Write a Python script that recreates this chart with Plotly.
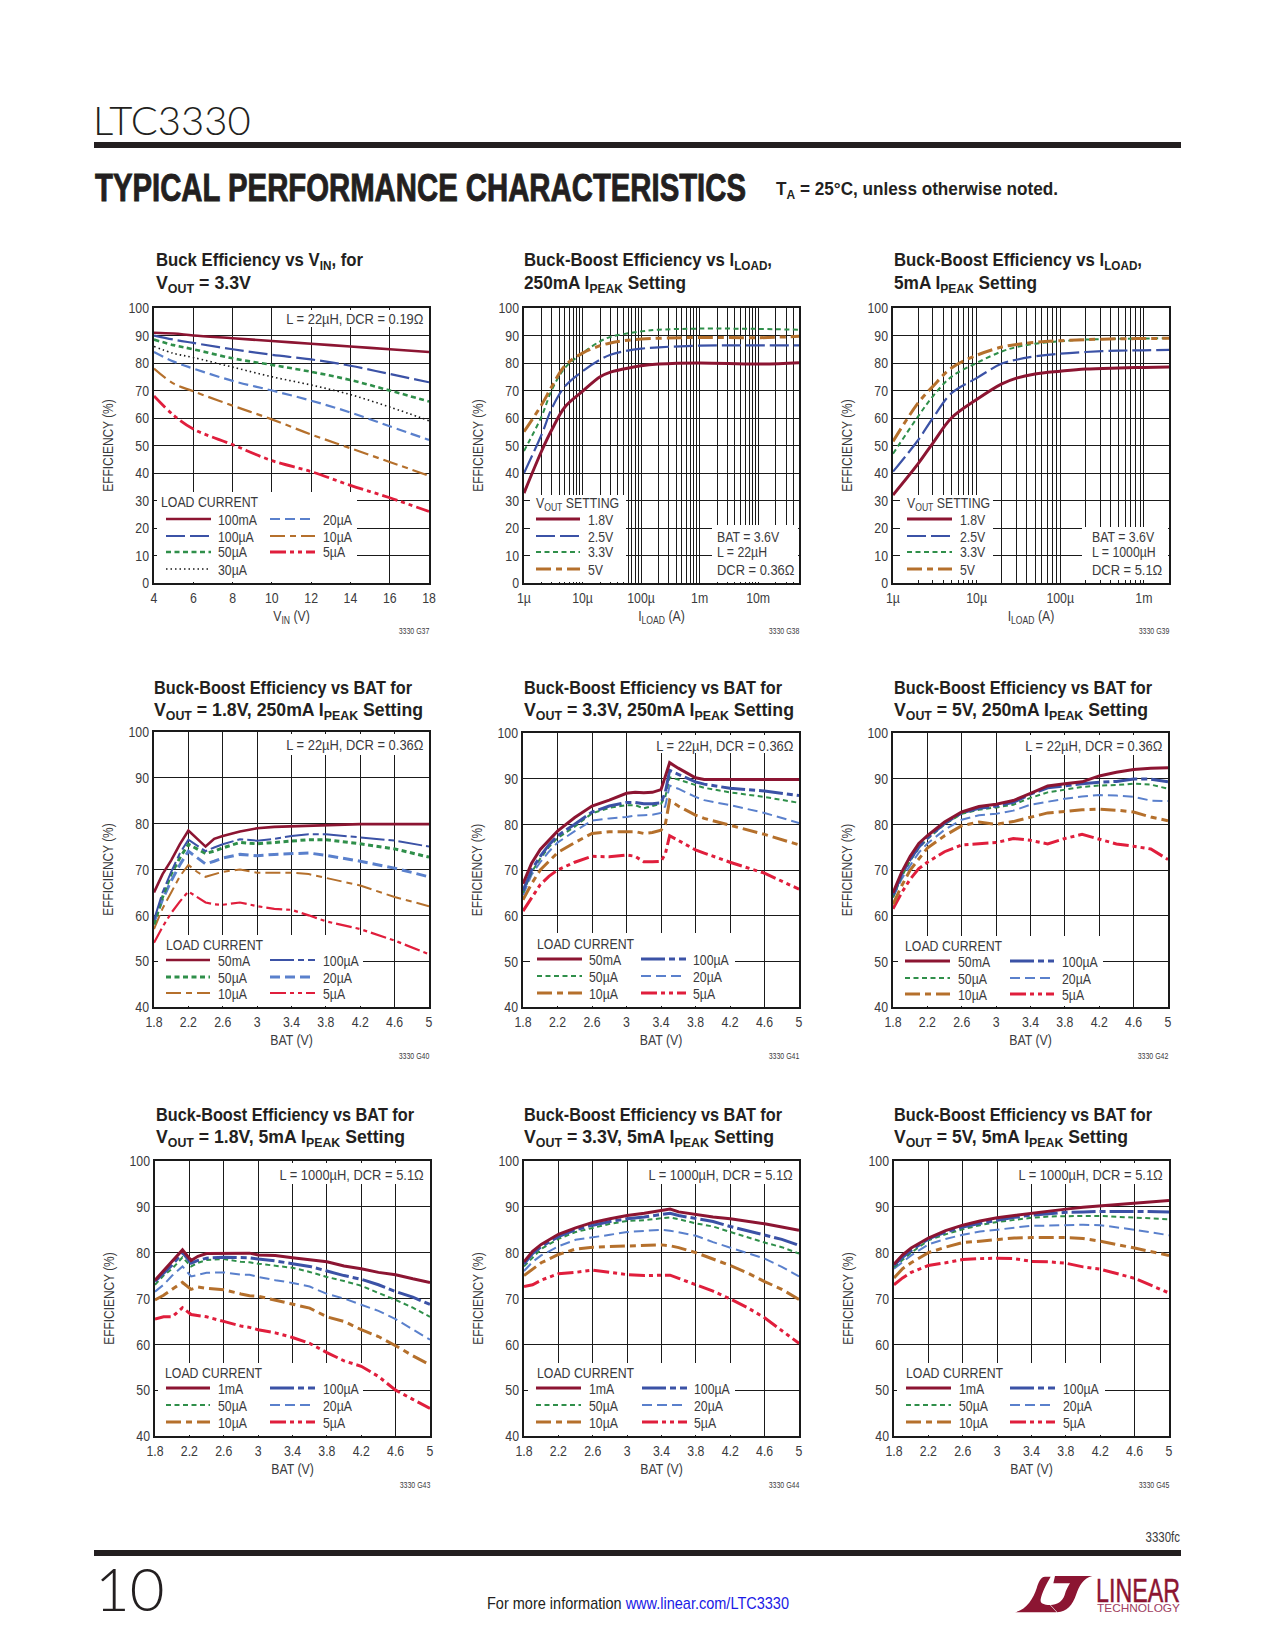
import json
import re
import plotly.graph_objects as go

W, H = 1275, 1650
FONT = "Liberation Sans"
INK = "#231f20"
GREY = "#3a3a3c"

# ---------- data ----------
c1_x = [4, 5, 6, 8, 10, 12, 14, 16, 18]
c1_100mA = [91, 90.7, 90, 89, 88, 87, 86, 85, 84]
c1_100uA = [90, 88.5, 87.3, 85, 83, 81.3, 79, 76, 73]
c1_50uA = [88.5, 86.5, 85, 81.7, 79.3, 76.8, 73.8, 70, 66]
c1_30uA = [86, 83.5, 82, 78.5, 75, 72, 68.5, 64, 59]
c1_20uA = [84, 80.5, 78, 73.5, 70, 66.3, 62, 57, 52]
c1_10uA = [78, 72.5, 69.7, 64.5, 59.5, 54, 49, 44, 39]
c1_5uA = [68, 61, 56, 50.3, 44.5, 40.5, 35.5, 31, 26]

c2_x = [1e-6, 2e-6, 3e-6, 5e-6, 1e-5, 2e-5, 3e-5, 5e-5, 1e-4, 2e-4, 1e-3, 1e-2, 5e-2]
c2_18 = [32.7, 48, 55.8, 64, 69.7, 75, 76.7, 77.8, 79, 79.6, 80, 79.6, 80.1]
c2_25 = [40, 54, 63.6, 71.5, 77, 81.2, 83, 84.2, 85.2, 85.7, 86.3, 86.4, 86.4]
c2_33 = [48, 60.6, 70.3, 78.2, 83.6, 87.9, 89.5, 90.5, 91.5, 92.1, 92.5, 92.4, 92.1]
c2_50 = [55, 64.8, 71.5, 79, 83.6, 86.3, 87.3, 88.1, 88.7, 89, 89.3, 89.2, 89.7]

c3_x = [1e-6, 2e-6, 3e-6, 5e-6, 1e-5, 2e-5, 3e-5, 5e-5, 1e-4, 2e-4, 5e-4, 1e-3, 2e-3]
c3_18 = [32, 43.4, 50.9, 60, 66.7, 72.4, 74.5, 76, 77, 77.8, 78.2, 78.4, 78.5]
c3_25 = [40.5, 52, 60, 69, 74.5, 79.8, 81.2, 82.4, 83.4, 84, 84.5, 84.6, 84.8]
c3_33 = [47, 60.6, 67.9, 75, 80, 84.2, 85.8, 87, 87.9, 88.5, 88.8, 88.9, 89]
c3_50 = [51.5, 65.5, 71.5, 78.2, 82.8, 85.8, 86.7, 87.5, 88.1, 88.5, 88.8, 88.9, 89]

c4_x = [1.8, 1.9, 2, 2.1, 2.2, 2.3, 2.4, 2.5, 2.6, 2.8, 3, 3.2, 3.4, 3.6, 3.8, 4.2, 4.6, 5]
c4_50mA = [65, 69, 72, 75.5, 78.5, 76.7, 75, 76.7, 77.3, 78.3, 79, 79.3, 79.4, 79.5, 79.7, 79.9, 79.9, 79.9]
c4_100uA = [59, 65, 69.5, 73.5, 76.5, 75.3, 74, 74.8, 75.5, 76.6, 76.3, 76.7, 77.3, 77.7, 77.7, 77, 76.3, 75]
c4_50uA = [58, 64, 69, 72.5, 75.5, 74.5, 73.5, 74, 74.7, 75.9, 75.6, 75.9, 76.2, 76.5, 76.5, 75.6, 74.5, 72.7]
c4_20uA = [58.5, 63.5, 67.5, 71, 74, 72.5, 71.2, 71.8, 72.5, 73.3, 73, 73.3, 73.5, 73.6, 73.1, 71.8, 70.3, 68.4]
c4_10uA = [57, 61.5, 65, 68.5, 71, 69.5, 68.4, 69, 69.5, 70, 69.3, 69.3, 69.3, 69, 68.2, 66.5, 64, 62]
c4_5uA = [54, 57.5, 60.5, 63, 65.2, 64, 62.8, 62.4, 62.3, 62.8, 62, 61.4, 61.2, 60, 58.7, 57, 54.5, 51.5]

c5_x = [1.8, 1.9, 2, 2.1, 2.2, 2.4, 2.6, 2.8, 3, 3.1, 3.2, 3.3, 3.4, 3.45, 3.5, 3.6, 3.8, 3.9, 4.2, 4.6, 5]
c5_50mA = [67, 71.5, 74.5, 76.5, 78.5, 81.5, 84, 85.3, 86.8, 87, 86.9, 87, 87.6, 90.5, 93.5, 92.3, 90.2, 89.8, 89.8, 89.8, 89.8]
c5_100uA = [65.5, 70, 73, 75.5, 77.5, 80, 82.7, 84, 84.8, 84.8, 84.5, 84.5, 84.7, 87, 91.8, 91, 89.3, 88.8, 87.9, 87.3, 86.3]
c5_50uA = [65, 69.5, 72.5, 75, 77, 79.5, 82.4, 83.6, 84.2, 84.2, 83.5, 84, 84.5, 86, 90.3, 89.8, 88.7, 88, 87, 86, 84.7]
c5_20uA = [64.5, 69, 71.7, 74, 76, 78.5, 80.8, 81.3, 81.6, 81.9, 82, 82.1, 82.5, 84, 88.5, 87.8, 86, 85.3, 84.2, 82.5, 80.3]
c5_10uA = [63.5, 67, 70, 72, 73.8, 76, 78, 78.4, 78.4, 78.4, 78, 78.2, 78.7, 80, 85.3, 84, 82, 81.3, 79.8, 77.8, 75.5]
c5_5uA = [61, 64, 66.8, 68.6, 70, 71.7, 73, 72.9, 73.3, 73, 71.8, 71.8, 71.9, 73.5, 77.5, 76.5, 74.4, 73.7, 71.7, 69.3, 65.8]

c6_x = [1.8, 1.9, 2, 2.1, 2.2, 2.4, 2.6, 2.8, 3, 3.2, 3.4, 3.6, 3.8, 4, 4.2, 4.4, 4.6, 4.8, 5]
c6_50mA = [65, 69.5, 73, 75.8, 77.5, 80.5, 82.7, 83.9, 84.4, 85.2, 86.8, 88.4, 88.9, 89.3, 90.6, 91.4, 92, 92.3, 92.4]
c6_100uA = [64.5, 69, 72.3, 75, 77, 80.2, 82.5, 83.5, 84, 84.8, 86.6, 88, 88.4, 88.9, 89.2, 89.4, 89.9, 89.9, 89.3]
c6_50uA = [64, 68.5, 72, 74.8, 76.8, 80, 82.3, 83.2, 83.7, 84.3, 85.8, 87, 87.6, 88.2, 88.5, 88.6, 88.9, 88.7, 87.8]
c6_20uA = [64, 68, 71, 73.8, 75.8, 78.8, 81, 82, 82.3, 83, 84.3, 85, 85.6, 86.1, 86.4, 86.3, 86, 85.2, 85.1]
c6_10uA = [62.5, 66.5, 70, 72.5, 74.8, 77.5, 79.7, 80.5, 80, 80.6, 81.6, 82.5, 82.8, 83.2, 83.3, 83.1, 82.7, 81.6, 80.8]
c6_5uA = [61.5, 65, 68, 70.3, 71.7, 74, 75.5, 75.8, 76, 76.9, 76.5, 75.7, 76.9, 77.8, 76.8, 75.7, 75.2, 74.6, 72.3]

c7_x = [1.8, 1.9, 2, 2.12, 2.22, 2.3, 2.4, 2.6, 2.8, 2.9, 3, 3.2, 3.4, 3.6, 3.8, 4, 4.2, 4.4, 4.6, 4.8, 5]
c7_1mA = [74, 76, 78, 80.6, 78.3, 79.2, 79.8, 79.9, 79.9, 79.9, 79.5, 79.4, 78.9, 78.5, 78, 77.1, 76.5, 75.7, 75.2, 74.3, 73.5]
c7_100uA = [73.7, 75.5, 77.3, 80, 77.7, 78.3, 78.8, 79, 79, 78.9, 78.6, 78.2, 77.6, 77, 76, 75, 74.2, 73, 71.5, 70.3, 68.7]
c7_50uA = [73, 75, 76.5, 79, 77, 77.8, 78.4, 78.6, 78, 77.9, 77.6, 77.1, 76.7, 75.8, 74.7, 73.8, 72.8, 71.2, 69.7, 68, 66]
c7_20uA = [71.5, 73, 75, 77, 74.8, 75.1, 75.6, 75.7, 75.2, 75.2, 74.7, 74, 73.4, 72.6, 71, 70, 68.7, 67.3, 65.5, 63.2, 61]
c7_10uA = [69.7, 70.7, 72, 73.5, 72, 72.5, 72.2, 71.9, 71, 70.6, 70.5, 69.6, 68.8, 67.9, 66, 65, 63.2, 61.7, 59.7, 57.5, 55.5]
c7_5uA = [65.5, 66, 66, 68, 66.5, 66.3, 66, 65, 64, 63.7, 63.2, 62.5, 61.5, 60.2, 58.2, 56.4, 55.2, 53, 50, 48, 46]

c8_x = [1.8, 1.9, 2, 2.2, 2.4, 2.6, 2.8, 3, 3.2, 3.4, 3.5, 3.6, 3.8, 4, 4.2, 4.4, 4.6, 4.8, 5]
c8_1mA = [78, 80.3, 81.8, 84, 85.4, 86.6, 87.4, 88.1, 88.6, 89.3, 89.5, 88.9, 88.3, 87.8, 87.4, 86.9, 86.3, 85.6, 84.9]
c8_100uA = [77.5, 79.8, 81.3, 83.5, 85, 86, 86.8, 87.4, 87.8, 88.4, 88.6, 88.1, 87.4, 86.8, 85.7, 84.8, 83.8, 82.9, 81.6]
c8_50uA = [77, 79, 80.8, 83, 84.5, 85.4, 86.3, 86.9, 87.1, 87.5, 87.7, 87.3, 86.4, 85.7, 84.5, 83.3, 82.2, 81.2, 79.8]
c8_20uA = [76, 78, 79.4, 81.4, 82.8, 83.3, 83.9, 84.5, 84.8, 85, 84.8, 84.4, 83.7, 82.3, 81.1, 80, 78.7, 76.9, 74.8]
c8_10uA = [75, 76.5, 77.8, 79.6, 80.8, 81.2, 81.3, 81.5, 81.6, 81.7, 81.5, 81.1, 80, 78.6, 77.2, 75.6, 73.7, 72, 69.8]
c8_5uA = [72.6, 73, 74, 75.4, 75.7, 76.2, 75.7, 75.2, 75, 75.1, 75.1, 74.4, 73, 71.6, 69.9, 68, 65.8, 63, 60.2]

c9_x = [1.8, 1.9, 2, 2.2, 2.4, 2.6, 2.8, 3, 3.2, 3.4, 3.6, 3.8, 4, 4.2, 4.6, 5]
c9_1mA = [77.5, 79.5, 81, 83.2, 84.8, 86, 86.9, 87.6, 88.1, 88.6, 89, 89.5, 89.9, 90.2, 90.8, 91.4]
c9_100uA = [77.2, 79, 80.5, 83, 84.5, 85.6, 86.4, 87.1, 87.7, 88.2, 88.5, 88.8, 88.9, 89, 89, 88.9]
c9_50uA = [76.8, 78.5, 80, 82.7, 84, 85.1, 86, 86.7, 87.2, 87.6, 87.9, 88, 88, 88, 87.7, 87.3]
c9_20uA = [76.5, 78, 79.4, 81.8, 83, 83.9, 84.6, 85, 85.5, 85.9, 85.9, 86, 86.1, 86, 85, 83.8]
c9_10uA = [74.5, 76.5, 77.8, 80, 81.2, 82.2, 82.5, 82.8, 83.2, 83.3, 83.3, 83.3, 83.1, 82.5, 81, 79.4]
c9_5uA = [73, 74.5, 75.7, 77.2, 77.8, 78.5, 78.7, 78.8, 78.7, 78.1, 78, 77.7, 76.9, 76.4, 74.4, 71.2]

bat_ticks = [1.8, 2.2, 2.6, 3, 3.4, 3.8, 4.2, 4.6, 5]
vin_ticks = [4, 6, 8, 10, 12, 14, 16, 18]
eff_full = list(range(0, 101, 10))
eff_top = list(range(40, 101, 10))
log_major2 = [1e-6, 1e-5, 1e-4, 1e-3, 1e-2]
log_labels2 = ["1µ", "10µ", "100µ", "1m", "10m"]
log_major3 = [1e-6, 1e-5, 1e-4, 1e-3]
log_labels3 = ["1µ", "10µ", "100µ", "1m"]

# ---------- styles ----------
MAROON, BLUE, GREEN, BLACK, LBLUE, BROWN, RED = "#8c1532", "#3b52a6", "#2f8f4a", "#1a1a1a", "#5a80cc", "#b5702c", "#e01e3c"
D_SOLID = "solid"
D_LONG = "19px,5px"
D_LONGDOT = "24px,4px,6px,4px"
D_DOT = "5px,3.5px"
D_FINE = "1.5px,3px"
D_DASH = "10px,5px"
D_DD = "15px,5px,6px,5px"
D_DDD = "16px,4px,4px,4px,4px,4px"
S = {"A": (MAROON, D_SOLID), "B": (BLUE, D_LONG), "H": (BLUE, D_LONGDOT), "G": (GREEN, D_DOT), "K": (BLACK, D_FINE),
     "L": (LBLUE, D_DASH), "R": (BROWN, D_DD), "E": (RED, D_DDD)}


def log_minor(top):
    out = []
    for dec in (1e-6, 1e-5, 1e-4, 1e-3, 1e-2):
        for m in range(2, 10):
            v = m * dec
            if v <= top * 1.001:
                out.append(v)
    return out


panels = [
    dict(box=(154, 429, 308, 583), title=["Buck Efficiency vs V<sub>IN</sub>, for", "V<sub>OUT</sub> = 3.3V"], widths=(207, 95), tx=155, ty=(261, 284),
         x=c1_x, series=[("100mA", "A", c1_100mA, 2.6), ("100µA", "B", c1_100uA, 2.2), ("50µA", "G", c1_50uA, 2.6), ("30µA", "K", c1_30uA, 1.6),
                         ("20µA", "L", c1_20uA, 2.2), ("10µA", "R", c1_10uA, 2.2), ("5µA", "E", c1_5uA, 2.8)],
         xt=vin_ticks, xl=[str(v) for v in vin_ticks], yt=eff_full, yr=[0, 100], xr=[4, 18], xtitle="V<sub>IN</sub> (V)", log=False, spline=True,
         ltitle="LOAD CURRENT", lcols=[[0, 1, 2, 3], [4, 5, 6]], lk=(12, 57, 63, 116, 161, 168), ltx=6, lty=502, lrows=[519, 536, 552, 569],
         masks=[(157, 357, 492, 582), (283, 427, 310, 327)], note=["L = 22µH, DCR = 0.19Ω"], notex=424, notey=[318], noteanchor="right", code="3330 G37"),
    dict(box=(524, 799, 308, 583), title=["Buck-Boost Efficiency vs I<sub>LOAD</sub>,", "250mA I<sub>PEAK</sub> Setting"], widths=(248, 162), tx=523, ty=(261, 284),
         x=c2_x, series=[("1.8V", "A", c2_18, 3), ("2.5V", "B", c2_25, 2.2), ("3.3V", "G", c2_33, 2), ("5V", "R", c2_50, 3)],
         xt=log_major2, xl=log_labels2, minor=log_minor(0.05), yt=eff_full, yr=[0, 100], xr=[-6, -1.301], xtitle="I<sub>LOAD</sub> (A)", log=True, spline=True,
         ltitle="V<sub>OUT</sub> SETTING", lcols=[[0, 1, 2, 3]], lk=(12, 56, 63), ltx=11, lty=503, lrows=[519, 536, 552, 569],
         masks=[(530, 626, 495, 582), (712, 798, 525, 582)], note=["BAT = 3.6V", "L = 22µH", "DCR = 0.36Ω"], notex=716, notey=[536, 552, 569], noteanchor="left", code="3330 G38"),
    dict(box=(893, 1169, 308, 583), title=["Buck-Boost Efficiency vs I<sub>LOAD</sub>,", "5mA I<sub>PEAK</sub> Setting"], widths=(248, 143), tx=893, ty=(261, 284),
         x=c3_x, series=[("1.8V", "A", c3_18, 3), ("2.5V", "B", c3_25, 2.2), ("3.3V", "G", c3_33, 2), ("5V", "R", c3_50, 3)],
         xt=log_major3, xl=log_labels3, minor=log_minor(0.002), yt=eff_full, yr=[0, 100], xr=[-6, -2.699], xtitle="I<sub>LOAD</sub> (A)", log=True, spline=True,
         ltitle="V<sub>OUT</sub> SETTING", lcols=[[0, 1, 2, 3]], lk=(14, 59, 66), ltx=13, lty=503, lrows=[519, 536, 552, 569],
         masks=[(900, 993, 495, 580), (1082, 1168, 527, 580)], note=["BAT = 3.6V", "L = 1000µH", "DCR = 5.1Ω"], notex=1091, notey=[536, 552, 569], noteanchor="left", code="3330 G39"),
]

bat_specs = [
    dict(box=(154, 429, 732, 1007), title=["Buck-Boost Efficiency vs BAT for", "V<sub>OUT</sub> = 1.8V, 250mA I<sub>PEAK</sub> Setting"], widths=(258, 269), tx=153, ty=(687, 711),
         x=c4_x, first="50mA", vals=(c4_50mA, c4_100uA, c4_50uA, c4_20uA, c4_10uA, c4_5uA), w=(2.6, 2, 3, 3, 2, 2.2),
         lk=(12, 56, 63, 116, 161, 168), ltx=11, lty=944, lrows=[960, 977, 993], masks=[(158, 363, 935, 1006), (285, 427, 734, 755)],
         note="L = 22µH, DCR = 0.36Ω", notey=744, code="3330 G40"),
    dict(box=(523, 799, 733, 1007), title=["Buck-Boost Efficiency vs BAT for", "V<sub>OUT</sub> = 3.3V, 250mA I<sub>PEAK</sub> Setting"], widths=(258, 270), tx=523, ty=(687, 711),
         x=c5_x, first="50mA", vals=(c5_50mA, c5_100uA, c5_50uA, c5_20uA, c5_10uA, c5_5uA), w=(3, 3, 2, 2, 3, 3),
         lk=(14, 59, 65, 118, 163, 169), ltx=13, lty=943, lrows=[959, 976, 993], masks=[(530, 735, 933, 1006), (652, 797, 735, 753)],
         note="L = 22µH, DCR = 0.36Ω", notey=745, code="3330 G41"),
    dict(box=(893, 1168, 733, 1007), title=["Buck-Boost Efficiency vs BAT for", "V<sub>OUT</sub> = 5V, 250mA I<sub>PEAK</sub> Setting"], widths=(258, 254), tx=893, ty=(687, 711),
         x=c6_x, first="50mA", vals=(c6_50mA, c6_100uA, c6_50uA, c6_20uA, c6_10uA, c6_5uA), w=(3, 3, 2, 2, 3, 3),
         lk=(12, 57, 64, 117, 161, 168), ltx=11, lty=945, lrows=[961, 978, 994], masks=[(898, 1103, 936, 1006), (1022, 1166, 735, 755)],
         note="L = 22µH, DCR = 0.36Ω", notey=745, code="3330 G42"),
    dict(box=(155, 430, 1161, 1436), title=["Buck-Boost Efficiency vs BAT for", "V<sub>OUT</sub> = 1.8V, 5mA I<sub>PEAK</sub> Setting"], widths=(258, 249), tx=155, ty=(1114, 1138),
         x=c7_x, first="1mA", vals=(c7_1mA, c7_100uA, c7_50uA, c7_20uA, c7_10uA, c7_5uA), w=(3, 3, 2, 2, 3, 3),
         lk=(11, 55, 62, 115, 160, 167), ltx=9, lty=1372, lrows=[1388, 1405, 1422], masks=[(158, 363, 1363, 1435), (277, 428, 1163, 1184)],
         note="L = 1000µH, DCR = 5.1Ω", notey=1174, code="3330 G43"),
    dict(box=(524, 799, 1161, 1436), title=["Buck-Boost Efficiency vs BAT for", "V<sub>OUT</sub> = 3.3V, 5mA I<sub>PEAK</sub> Setting"], widths=(258, 250), tx=523, ty=(1114, 1138),
         x=c8_x, first="1mA", vals=(c8_1mA, c8_100uA, c8_50uA, c8_20uA, c8_10uA, c8_5uA), w=(3, 3, 2, 2, 3, 3),
         lk=(12, 57, 64, 118, 163, 169), ltx=12, lty=1372, lrows=[1388, 1405, 1422], masks=[(528, 735, 1363, 1435), (643, 797, 1163, 1184)],
         note="L = 1000µH, DCR = 5.1Ω", notey=1174, code="3330 G44"),
    dict(box=(894, 1169, 1161, 1436), title=["Buck-Boost Efficiency vs BAT for", "V<sub>OUT</sub> = 5V, 5mA I<sub>PEAK</sub> Setting"], widths=(258, 234), tx=893, ty=(1114, 1138),
         x=c9_x, first="1mA", vals=(c9_1mA, c9_100uA, c9_50uA, c9_20uA, c9_10uA, c9_5uA), w=(3, 3, 2, 2, 3, 3),
         lk=(12, 57, 64, 116, 161, 168), ltx=11, lty=1372, lrows=[1388, 1405, 1422], masks=[(897, 1105, 1363, 1435), (1017, 1166, 1163, 1184)],
         note="L = 1000µH, DCR = 5.1Ω", notey=1174, code="3330 G45"),
]
for b in bat_specs:
    names = [(b["first"], "A"), ("100µA", "H"), ("50µA", "G"), ("20µA", "L"), ("10µA", "R"), ("5µA", "E")]
    panels.append(dict(box=b["box"], title=b["title"], widths=b["widths"], tx=b["tx"], ty=b["ty"], x=b["x"],
                       series=[(n, k, v, w) for (n, k), v, w in zip(names, b["vals"], b["w"])],
                       xt=bat_ticks, xl=[str(v) for v in bat_ticks], yt=eff_top, yr=[40, 100], xr=[1.8, 5], xtitle="BAT (V)", log=False, spline=False,
                       ltitle="LOAD CURRENT", lcols=[[0, 2, 4], [1, 3, 5]], lk=b["lk"], ltx=b["ltx"], lty=b["lty"], lrows=b["lrows"], masks=b["masks"],
                       note=[b["note"]], notex=b["box"][1] - 5, notey=[b["notey"]], noteanchor="right", code=b["code"]))

# ---------- build ----------
fig = go.Figure()
annotations, shapes = [], []
title_widths = {}


def px(x):
    return x / W


def py(y):
    return 1 - y / H


def text(x, y, s, size=15, color=GREY, anchor="left", bold=False, angle=0, family=FONT, weight=None):
    f = dict(family=family, size=size, color=color)
    if bold:
        f["weight"] = "bold"
    if weight:
        f["weight"] = weight
    annotations.append(dict(x=px(x), y=py(y), xref="paper", yref="paper", text=s, showarrow=False, xanchor=anchor,
                            yanchor="middle", font=f, textangle=angle, borderpad=0, align=anchor))


layout_axes = {}
for i, p in enumerate(panels):
    n = "" if i == 0 else str(i + 1)
    x0, x1, y0, y1 = p["box"]
    xa, ya = f"x{n}", f"y{n}"
    order = p["series"] if p["log"] else p["series"][::-1]
    for name, key, vals, width in order:
        col, dash = S[key]
        line = dict(color=col, width=width, dash=dash)
        if p["spline"]:
            line.update(shape="spline", smoothing=1.0)
        fig.add_trace(go.Scatter(x=p["x"], y=vals, name=name, mode="lines", line=line, xaxis=xa, yaxis=ya,
                                 showlegend=False, hoverinfo="skip"))
    xaxis = dict(domain=[px(x0), px(x1)], range=p["xr"], type="log" if p["log"] else "linear", anchor=ya,
                 tickmode="array", tickvals=p["xt"], ticktext=p["xl"], showgrid=True, gridcolor="#1a1a1a", gridwidth=1,
                 showline=True, linecolor="#1a1a1a", linewidth=2, mirror=True, ticks="", zeroline=False,
                 tickfont=dict(family=FONT, size=15, color=GREY),
                 title=dict(text=p["xtitle"], font=dict(family=FONT, size=15, color=GREY), standoff=5))
    if p["log"]:
        xaxis["minor"] = dict(tickmode="array", tickvals=p["minor"], showgrid=True, gridcolor="#1a1a1a", gridwidth=1, ticks="")
    layout_axes[f"xaxis{n}"] = xaxis
    layout_axes[f"yaxis{n}"] = dict(domain=[py(y1), py(y0)], range=p["yr"], anchor=xa, tickmode="array", tickvals=p["yt"],
                                    ticktext=[str(v) for v in p["yt"]], showgrid=True, gridcolor="#1a1a1a", gridwidth=1,
                                    showline=True, linecolor="#1a1a1a", linewidth=2, mirror=True, ticks="", zeroline=False,
                                    tickfont=dict(family=FONT, size=15, color=GREY),
                                    title=dict(text="EFFICIENCY (%)", font=dict(family=FONT, size=14.5, color=GREY), standoff=7))

    # white panels that interrupt the grid behind legends and notes
    def to_x(v):
        f = (v - x0) / (x1 - x0)
        lo, hi = p["xr"]
        return 10 ** (lo + f * (hi - lo)) if p["log"] else lo + f * (hi - lo)

    def to_y(v):
        f = (y1 - v) / (y1 - y0)
        lo, hi = p["yr"]
        return lo + f * (hi - lo)

    for mx0, mx1, my0, my1 in p["masks"]:
        shapes.append(dict(type="rect", xref=xa, yref=ya, x0=to_x(mx0), x1=to_x(mx1), y0=to_y(my1), y1=to_y(my0),
                           layer="between", fillcolor="white", line=dict(width=0)))

    for line_text, ty, tw in zip(p["title"], p["ty"], p["widths"]):
        text(p["tx"], ty, line_text, size=19, color=INK, bold=True)
        title_widths[re.sub(r"<[^>]+>", "", line_text)] = tw

    text(x0 + p["ltx"], p["lty"], p["ltitle"], size=15)
    lk = p["lk"]
    for col_i, members in enumerate(p["lcols"]):
        ka, kb, tx_ = lk[col_i * 3], lk[col_i * 3 + 1], lk[col_i * 3 + 2]
        for r, idx in enumerate(members):
            name, key, _, width = p["series"][idx]
            col, dash = S[key]
            ry = p["lrows"][r]
            shapes.append(dict(type="line", xref="paper", yref="paper", x0=px(x0 + ka), x1=px(x0 + kb), y0=py(ry), y1=py(ry),
                               layer="above", line=dict(color=col, width=width, dash=dash)))
            text(x0 + tx_, ry, name)

    for nt, ny in zip(p["note"], p["notey"]):
        text(p["notex"], ny, nt, anchor=p["noteanchor"])
    text(x1 + 2, 631 if y0 < 400 else (1056 if y0 < 800 else 1485), p["code"], size=8.5, anchor="right")

# page furniture
text(92, 120, "LTC3330", size=40, color=INK, family="Lato", weight=300)
shapes.append(dict(type="rect", xref="paper", yref="paper", x0=px(94), x1=px(1181), y0=py(148), y1=py(142),
                   fillcolor=INK, line=dict(width=0), layer="above"))
text(94, 188, "TYPICAL PERFORMANCE CHARACTERISTICS", size=38, color=INK, bold=True)
text(775, 190, "T<sub>A</sub> = 25°C, unless otherwise noted.", size=19, color=INK, bold=True)
text(1181, 1537, "3330fc", size=14, anchor="right")
shapes.append(dict(type="rect", xref="paper", yref="paper", x0=px(94), x1=px(1181), y0=py(1556), y1=py(1550),
                   fillcolor=INK, line=dict(width=0), layer="above"))
text(94, 1588, "10", size=60, color=INK, family="Lato", weight=300)
text(486, 1603, "For more information <span style='color:#1a1ae6'>www.linear.com/LTC3330</span>", size=17, color=INK)
text(1095, 1590, "LINEAR", size=34, color=MAROON)
text(1096, 1608, "TECHNOLOGY", size=11, color="#a04060")


def logo_path(cmds):
    out = []
    for c in cmds:
        if isinstance(c, str):
            out.append(c)
        else:
            out.append(f"{px(1000 + c[0] / 3):.5f},{py(1560 + c[1] / 3):.5f}")
    return " ".join(out)


logo_l = ["M", (45, 157), "C", (80, 150), (100, 115), (110, 85), "C", (115, 68), (122, 50), (135, 50), "L", (152, 50),
          "C", (140, 70), (125, 100), (122, 118), "C", (120, 130), (130, 135), (150, 135), "L", (170, 157), "Z"]
logo_t = ["M", (165, 48), "L", (277, 48), "C", (250, 55), (238, 75), (228, 105), "C", (218, 135), (200, 155), (172, 157),
          "L", (152, 135), "C", (170, 135), (188, 125), (194, 105), "C", (198, 90), (205, 78), (210, 70), "L", (160, 70), "Z"]
for path in (logo_l, logo_t):
    shapes.append(dict(type="path", xref="paper", yref="paper", path=logo_path(path), fillcolor=MAROON, line=dict(width=0), layer="above"))

fig.update_layout(width=W, height=H, margin=dict(l=0, r=0, t=0, b=0, pad=0, autoexpand=False), paper_bgcolor="white", plot_bgcolor="white",
                  showlegend=False, annotations=annotations, shapes=shapes, font=dict(family=FONT), **layout_axes)

NARROW_JS = """
document.body.style.margin = '0';
var exact = %s;
var prefix = {'TYPICAL': 651, 'TA =': 282, 'LINEAR': 84, 'TECHNOLOGY': 83, 'For more': 302};
var heavy = {'TYPICAL': 0.9, 'LINEAR': 0.5};
document.querySelectorAll('.main-svg text').forEach(function (t) {
  if (!(t.style.fontFamily || '').includes('Liberation')) { return; }
  var w = t.getComputedTextLength();
  if (!w) { return; }
  var s = t.textContent.replace(/\\u200b/g, '');
  var goal = w * (s.indexOf('DCR') >= 0 ? 0.86 : 0.82);
  Object.keys(prefix).forEach(function (k) { if (s.indexOf(k) === 0) { goal = prefix[k]; } });
  if (exact[s]) { goal = exact[s]; }
  t.setAttribute('textLength', goal);
  t.setAttribute('lengthAdjust', 'spacingAndGlyphs');
  Object.keys(heavy).forEach(function (k) {
    if (s.indexOf(k) === 0) { t.style.stroke = t.style.fill; t.style.strokeWidth = heavy[k] + 'px'; }
  });
});
""" % json.dumps(title_widths, ensure_ascii=False)
fig.write_html("out.html", config=dict(displayModeBar=False), post_script=NARROW_JS)
